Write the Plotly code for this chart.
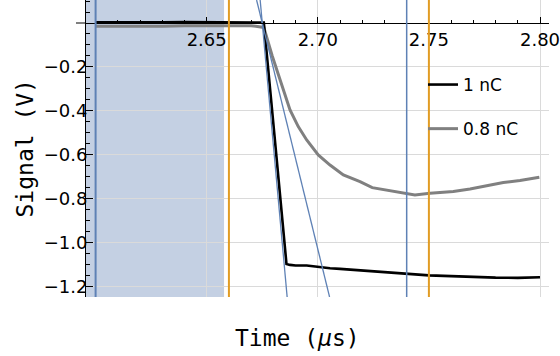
import plotly.graph_objects as go

# ---------------- data ----------------
t_1nC = [2.600, 2.610, 2.620, 2.630, 2.640, 2.650, 2.660, 2.670, 2.6757, 2.6808, 2.6859,
         2.6875, 2.690, 2.695, 2.700, 2.7055, 2.710, 2.720, 2.730, 2.740, 2.750, 2.760,
         2.770, 2.780, 2.790, 2.800]
v_1nC = [0.003, 0.002, 0.003, 0.003, 0.004, 0.003, 0.004, 0.004, 0.002, -0.545, -1.098,
         -1.102, -1.105, -1.105, -1.112, -1.117, -1.120, -1.128, -1.134, -1.143, -1.150, -1.153,
         -1.157, -1.160, -1.161, -1.158]

t_08nC = [2.600, 2.610, 2.620, 2.630, 2.640, 2.650, 2.660, 2.670, 2.6757, 2.6795, 2.6825,
          2.6848, 2.686, 2.6875, 2.6912, 2.695, 2.7002, 2.7055, 2.7115, 2.719, 2.7245, 2.731,
          2.7385, 2.7437, 2.7505, 2.761, 2.7685, 2.776, 2.7835, 2.791, 2.7997]
v_08nC = [-0.015, -0.016, -0.014, -0.015, -0.013, -0.014, -0.013, -0.012, -0.020, -0.150, -0.245,
          -0.314, -0.351, -0.396, -0.472, -0.533, -0.601, -0.647, -0.692, -0.723, -0.750, -0.761,
          -0.773, -0.784, -0.776, -0.768, -0.756, -0.743, -0.727, -0.718, -0.703]

# linear fits of the rising edge: (time at zero crossing, slope in V/us)
fit_t0 = [2.675, 2.675]
fit_slope = [-111.4, -41.2]

blue_lines = [2.60, 2.74]
blue_widths = [2.0, 1.5]
orange_lines = [2.66, 2.75]
shade_end = 2.6578

x_ticks = [2.65, 2.70, 2.75, 2.80]
x_ticktext = ["2.65", "2.70", "2.75", "2.80"]
y_ticks = [-1.2, -1.0, -0.8, -0.6, -0.4, -0.2]

# ---------------- layout constants ----------------
XR = [2.59568, 2.80405]
YR = [-1.2483, 0.1048]
BLUE = "#5E81B5"
ORANGE = "#E19C24"
TICKFONT = dict(family="DejaVu Sans", size=18, color="black")
TITLEFONT = dict(family="DejaVu Sans Mono", size=23, color="black")

fig = go.Figure()

fig.add_trace(go.Scatter(x=t_08nC, y=v_08nC, mode="lines", name="0.8 nC",
                         line=dict(color="#808080", width=3), legendgroup="b", legendrank=2))
fig.add_trace(go.Scatter(x=t_1nC, y=v_1nC, mode="lines", name="1 nC",
                         line=dict(color="black", width=2.6), legendgroup="a", legendrank=1))

for t0, s in zip(fit_t0, fit_slope):
    ys = [YR[1], YR[0]]
    xs = [t0 + y / s for y in ys]
    fig.add_trace(go.Scatter(x=xs, y=ys, mode="lines", showlegend=False,
                             line=dict(color=BLUE, width=1.3), hoverinfo="skip"))

shapes = []
shapes.append(dict(type="rect", xref="x", yref="paper", x0=XR[0], x1=shade_end, y0=0, y1=1,
                   fillcolor="rgba(138,162,200,0.5)", line=dict(width=0), layer="between"))
for xv, w in zip(blue_lines, blue_widths):
    shapes.append(dict(type="line", xref="x", yref="paper", x0=xv, x1=xv, y0=0, y1=1,
                       line=dict(color=BLUE, width=w), layer="above"))
for xv in orange_lines:
    shapes.append(dict(type="line", xref="x", yref="paper", x0=xv, x1=xv, y0=0, y1=1,
                       line=dict(color=ORANGE, width=2), layer="above"))
# small extension of the x axis line to the left of the frame
shapes.append(dict(type="line", xref="paper", yref="y", x0=-0.0216, x1=0, y0=0, y1=0,
                   line=dict(color="black", width=1), layer="above"))

xpos = (0 - YR[0]) / (YR[1] - YR[0])

fig.update_layout(
    width=560, height=356,
    margin=dict(l=86, r=11, t=0, b=59, autoexpand=False),
    paper_bgcolor="white", plot_bgcolor="white",
    shapes=shapes,
    showlegend=True,
    legend=dict(x=(423 - 86) / 463, xanchor="left", y=(297 - 67) / 297, yanchor="top",
                font=dict(family="DejaVu Sans", size=17, color="black"),
                bgcolor="rgba(0,0,0,0)", tracegroupgap=19, itemwidth=30),
    xaxis=dict(range=XR, anchor="free", position=xpos, side="bottom", automargin=False,
               showline=True, linecolor="black", linewidth=1,
               ticks="inside", ticklen=6, tickcolor="black", tickwidth=1,
               tickmode="array", tickvals=x_ticks, ticktext=x_ticktext, tickfont=TICKFONT,
               ticklabeloverflow="allow",
               minor=dict(tickmode="linear", tick0=2.60, dtick=0.01, ticks="inside", ticklen=3,
                          tickcolor="black", showgrid=False),
               showgrid=True, gridcolor="#dadada", gridwidth=1, zeroline=False),
    yaxis=dict(range=YR, showline=True, linecolor="black", linewidth=1, automargin=False,
               ticks="inside", ticklen=7, tickcolor="black", tickwidth=1,
               tickmode="array", tickvals=y_ticks, tickformat=".1f", tickfont=TICKFONT,
               ticklabelstandoff=-6,
               minor=dict(tickmode="linear", tick0=0, dtick=0.05, ticks="inside", ticklen=4,
                          tickcolor="black", showgrid=False),
               showgrid=True, gridcolor="#dadada", gridwidth=1, zeroline=False),
    annotations=[
        dict(text="Time (<i>μ</i>s)", xref="paper", yref="paper", x=(297.5 - 86) / 463,
             y=(297 - 338) / 297, xanchor="center", yanchor="middle", showarrow=False,
             font=TITLEFONT),
        dict(text="Signal (V)", xref="paper", yref="paper", x=(24 - 86) / 463, y=0.5,
             xanchor="center", yanchor="middle", textangle=-90, showarrow=False,
             font=TITLEFONT),
    ],
)

fig.write_html("out.html", config={"displayModeBar": False},
               post_script="document.body.style.margin='0';")
